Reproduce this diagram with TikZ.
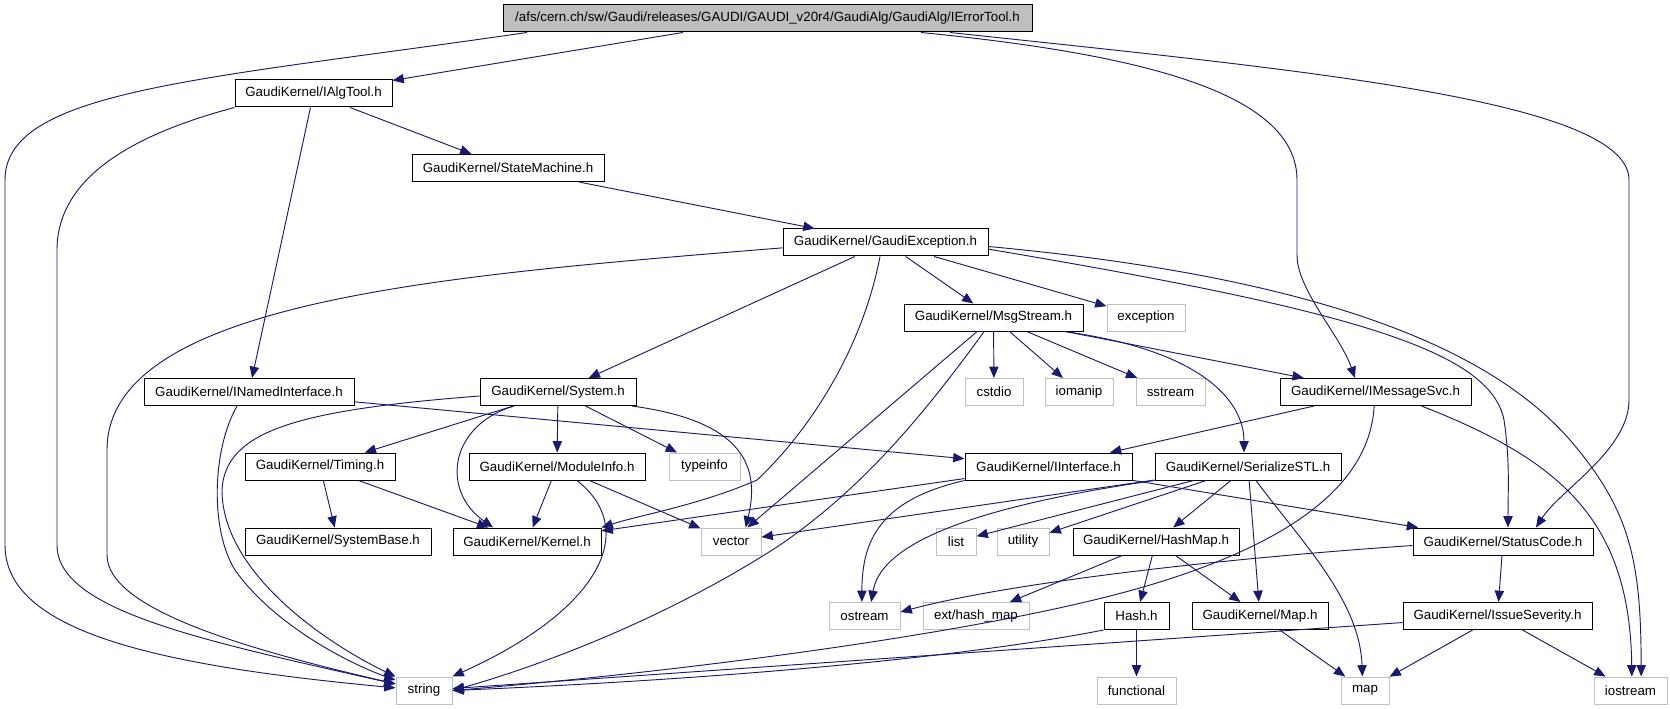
\documentclass[tikz,border=0pt]{standalone}
\usepackage{fontspec}
\setmainfont{Liberation Sans}
\usepackage{xcolor}
\usepackage{tikz}
\usetikzlibrary{arrows.meta}
\definecolor{edgeblue}{HTML}{191970}
\definecolor{boxgray}{HTML}{BFBFBF}
\tikzset{
  hdr/.style     = {draw=black, line width=0.75pt, rectangle, fill=white, inner xsep=0pt,
                    inner ysep=0pt, minimum height=20.25pt, font=\fontsize{10}{12}\selectfont},
  syshdr/.style  = {hdr, draw=boxgray},
  mainhdr/.style = {hdr, fill=boxgray},
  wd/.style      = {minimum width=#1},
  inc/.style     = {-{Triangle[length=8.5pt,width=7pt]}, draw=edgeblue, line width=0.7pt},
}

\begin{document}
\begin{tikzpicture}[x=0.75pt, y=-0.75pt]
  \useasboundingbox (0,0) rectangle (1670,709);

  % headers
  \node[mainhdr, wd=396.75pt] (root) at (767.5,18.5) {/afs/cern.ch/sw/Gaudi/releases/GAUDI/GAUDI\_v20r4/GaudiAlg/GaudiAlg/IErrorTool.h};
  \node[hdr, wd=117.75pt] (ialg) at (313.5,93.5) {GaudiKernel/IAlgTool.h};
  \node[hdr, wd=144pt] (statem) at (508,168) {GaudiKernel/StateMachine.h};
  \node[hdr, wd=153.75pt] (gexc) at (885.5,242.5) {GaudiKernel/GaudiException.h};
  \node[hdr, wd=134.25pt] (msgs) at (993.5,317.5) {GaudiKernel/MsgStream.h};
  \node[syshdr, wd=58.5pt] (exc) at (1146,317.5) {exception};
  \node[hdr, wd=157.5pt] (inamed) at (249,392) {GaudiKernel/INamedInterface.h};
  \node[hdr, wd=117pt] (system) at (558,392) {GaudiKernel/System.h};
  \node[syshdr, wd=43.5pt] (cstdio) at (994,392) {cstdio};
  \node[syshdr, wd=51pt] (iomanip) at (1079,392) {iomanip};
  \node[syshdr, wd=51.75pt] (sstream) at (1170.5,392) {sstream};
  \node[hdr, wd=143.25pt] (imsg) at (1375.5,392) {GaudiKernel/IMessageSvc.h};
  \node[hdr, wd=112.5pt] (timing) at (320,466.5) {GaudiKernel/Timing.h};
  \node[hdr, wd=132pt] (modinfo) at (557,466.5) {GaudiKernel/ModuleInfo.h};
  \node[syshdr, wd=53.25pt] (typeinfo) at (704.5,466.5) {typeinfo};
  \node[hdr, wd=125.25pt] (iiface) at (1048.5,466.5) {GaudiKernel/IInterface.h};
  \node[hdr, wd=139.5pt] (sstl) at (1248,466.5) {GaudiKernel/SerializeSTL.h};
  \node[hdr, wd=139.5pt] (sysbase) at (338,541.5) {GaudiKernel/SystemBase.h};
  \node[hdr, wd=111pt] (kernel) at (527,541.5) {GaudiKernel/Kernel.h};
  \node[syshdr, wd=45pt] (vector) at (731,541.5) {vector};
  \node[syshdr, wd=30pt] (list) at (956,541.5) {list};
  \node[syshdr, wd=39pt] (utility) at (1023,541.5) {utility};
  \node[hdr, wd=124.5pt] (hashmap) at (1156,541.5) {GaudiKernel/HashMap.h};
  \node[hdr, wd=135pt] (statc) at (1503,541.5) {GaudiKernel/StatusCode.h};
  \node[syshdr, wd=53.25pt] (ostream) at (864.5,616) {ostream};
  \node[syshdr, wd=79.5pt] (exthm) at (976,616) {ext/hash\_map};
  \node[hdr, wd=48.75pt] (hash) at (1136.5,616) {Hash.h};
  \node[hdr, wd=102pt] (mapH) at (1260,616) {GaudiKernel/Map.h};
  \node[hdr, wd=141.75pt] (issue) at (1497.5,616) {GaudiKernel/IssueSeverity.h};
  \node[syshdr, wd=42pt] (string) at (424,690.5) {string};
  \node[syshdr, wd=59.25pt] (functional) at (1136.5,690.5) {functional};
  \node[syshdr, wd=36pt] (map) at (1365,690.5) {map};
  \node[syshdr, wd=54.75pt] (iostream) at (1630.5,690.5) {iostream};

  % IErrorTool.h
  \draw[inc] (root) -- (ialg);
  \draw[inc] ([xshift=-180.4pt]root.south) .. controls (200,80) and (5,90) .. (5,180) -- (5,545)
    .. controls (5,630) and (150,665) .. (string);
  \draw[inc] ([xshift=115.1pt]root.south) .. controls (1150,55) and (1297,95) .. (1297,180) -- (1297,255)
    .. controls (1297,290) and (1340,335) .. ([xshift=-15.4pt]imsg.north);
  \draw[inc] ([xshift=136.9pt]root.south) .. controls (1300,70) and (1629,100) .. (1629,180) -- (1629,400)
    .. controls (1629,450) and (1560,490) .. ([xshift=24.75pt]statc.north);

  % IAlgTool.h, StateMachine.h
  \draw[inc] (ialg.south west) .. controls (150,130) and (57,170) .. (57,250) -- (57,545)
    .. controls (57,610) and (200,640) .. (string);
  \draw[inc] (ialg) -- (inamed);
  \draw[inc] (ialg) -- (statem);
  \draw[inc] (statem) -- (gexc);

  % GaudiException.h
  \draw[inc] ([yshift=-4pt]gexc.west) .. controls (450,275) and (107,300) .. (107,450) -- (107,555)
    .. controls (107,610) and (250,650) .. (string);
  \draw[inc] (gexc) -- (system);
  \draw[inc] ([xshift=-4.1pt]gexc.south) .. controls (860,360) and (800,440) .. (757,480)
    .. controls (700,505) and (640,515) .. (kernel.north east);
  \draw[inc] (gexc) -- (msgs);
  \draw[inc] (gexc) -- (exc);
  \draw[inc] ([yshift=-5pt]gexc.east) .. controls (1350,310) and (1490,350) .. (1504,420)
    .. controls (1510,460) and (1508,490) .. ([xshift=3.75pt]statc.north);
  \draw[inc] ([yshift=-3pt]gexc.east) .. controls (1350,280) and (1500,360) .. (1570,440)
    .. controls (1630,510) and (1641,560) .. ([xshift=8pt]iostream.north);

  % MsgStream.h
  \draw[inc] (msgs) -- (vector);
  \draw[inc] ([xshift=-7pt]msgs.south) .. controls (920,420) and (860,490) .. (780,545)
    .. controls (680,610) and (560,660) .. (string.east);
  \draw[inc] (msgs) -- (cstdio);
  \draw[inc] (msgs) -- (iomanip);
  \draw[inc] (msgs) -- (sstream);
  \draw[inc] (msgs) -- (imsg);
  \draw[inc] ([xshift=52.9pt]msgs.south) .. controls (1200,350) and (1244,400) .. ([xshift=-3pt]sstl.north);

  % INamedInterface.h, System.h
  \draw[inc] (inamed) -- (iiface);
  \draw[inc] ([xshift=-9pt]inamed.south) .. controls (212,450) and (210,530) .. (235,570)
    .. controls (270,620) and (340,660) .. (string);
  \draw[inc] ([yshift=-3pt]system.west) .. controls (300,410) and (225,430) .. (222,490)
    .. controls (222,570) and (320,640) .. (string);
  \draw[inc] (system) -- (timing);
  \draw[inc] ([xshift=-33pt]system.south) .. controls (450,425) and (440,490) .. ([xshift=-25.5pt]kernel.north);
  \draw[inc] (system) -- (modinfo);
  \draw[inc] (system) -- (typeinfo);
  \draw[inc] ([xshift=55.5pt]system.south) .. controls (735,420) and (762,460) .. ([xshift=11pt]vector.north);

  % IMessageSvc.h
  \draw[inc] (imsg) -- (iiface);
  \draw[inc] ([xshift=-1pt]imsg.south) .. controls (1370,480) and (1300,540) .. (1150,585)
    .. controls (1000,630) and (700,670) .. (string.east);
  \draw[inc] ([xshift=34.5pt]imsg.south) .. controls (1560,460) and (1630,520) .. ([xshift=1pt]iostream.north);

  % Timing.h, ModuleInfo.h
  \draw[inc] (timing) -- (sysbase);
  \draw[inc] (timing) -- (kernel);
  \draw[inc] (modinfo) -- (kernel);
  \draw[inc] (modinfo) -- (vector);
  \draw[inc] ([xshift=15pt]modinfo.south) .. controls (640,530) and (600,610) .. (string.north east);

  % IInterface.h
  \draw[inc] (iiface) -- (kernel);
  \draw[inc] (iiface) -- (statc);
  \draw[inc] (iiface.south west) .. controls (880,500) and (862,540) .. ([xshift=-2pt]ostream.north);

  % SerializeSTL.h
  \draw[inc] (sstl) -- (vector);
  \draw[inc] (sstl) -- (list);
  \draw[inc] (sstl) -- (utility);
  \draw[inc] (sstl.south west) .. controls (950,510) and (880,550) .. ([xshift=5pt]ostream.north);
  \draw[inc] (sstl) -- (hashmap);
  \draw[inc] (sstl) -- (mapH);
  \draw[inc] ([xshift=6pt]sstl.south) .. controls (1300,540) and (1360,600) .. ([xshift=-2pt]map.north);

  % HashMap.h, StatusCode.h
  \draw[inc] (hashmap) -- (exthm);
  \draw[inc] (hashmap) -- (hash);
  \draw[inc] (hashmap) -- (mapH);
  \draw[inc] ([yshift=-3pt]statc.west) .. controls (1200,560) and (1000,585) .. ([yshift=3pt]ostream.east);
  \draw[inc] (statc) -- (issue);

  % IssueSeverity.h, Hash.h, Map.h
  \draw[inc] (issue) -- (string);
  \draw[inc] (issue) -- (map);
  \draw[inc] (issue) -- (iostream);
  \draw[inc] (hash.south west) .. controls (950,660) and (700,680) .. (string.east);
  \draw[inc] (hash) -- (functional);
  \draw[inc] (mapH) -- (map);
\end{tikzpicture}
\end{document}
